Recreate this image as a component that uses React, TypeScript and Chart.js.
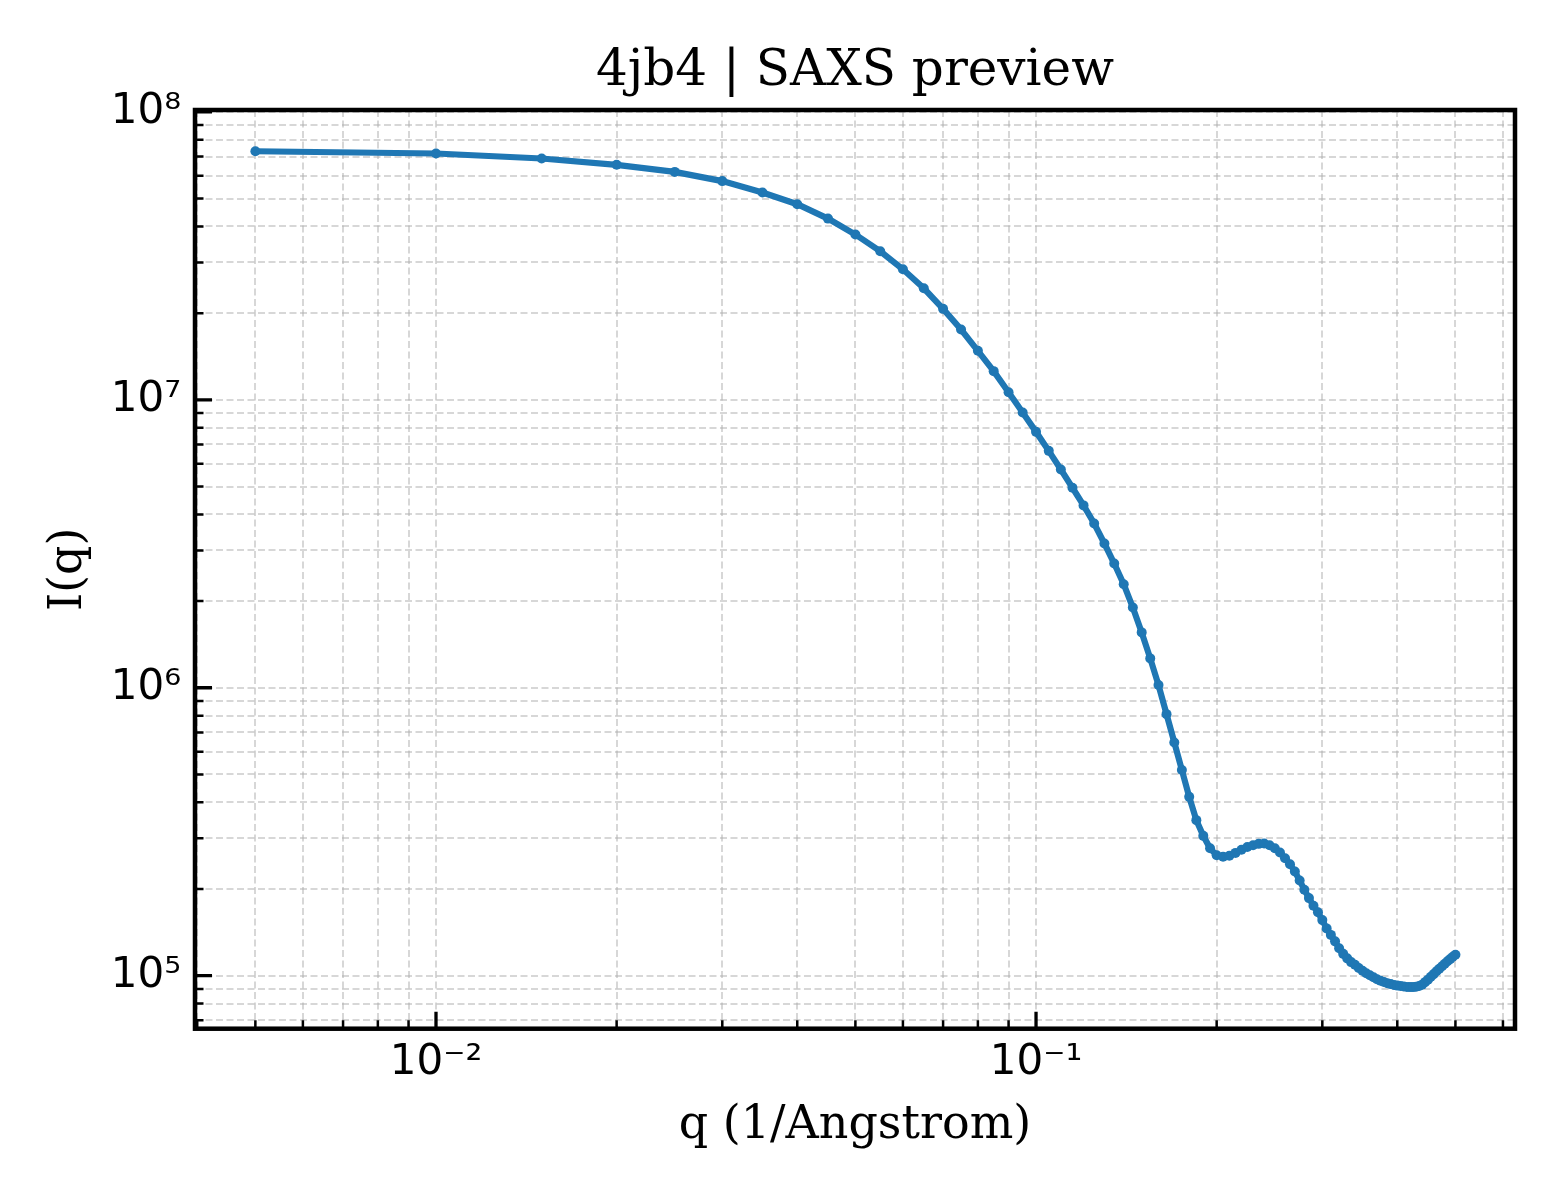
import { useEffect, useRef } from "react";
import type { FC, ReactElement } from "react";
import { Chart, registerables } from "chart.js";
import type { Plugin, Scale } from "chart.js";

Chart.register(...registerables);

// q grid of the curve (1/Angstrom)
const qValues = [
  0.005, 0.01, 0.015, 0.02, 0.025, 0.03, 0.035, 0.04, 0.045, 0.05,
  0.055, 0.06, 0.065, 0.07, 0.075, 0.08, 0.085, 0.09, 0.095, 0.1,
  0.105, 0.11, 0.115, 0.12, 0.125, 0.13, 0.135, 0.14, 0.145, 0.15,
  0.155, 0.16, 0.165, 0.17, 0.175, 0.18, 0.185, 0.19, 0.195, 0.2,
  0.205, 0.21, 0.215, 0.22, 0.225, 0.23, 0.235, 0.24, 0.245, 0.25,
  0.255, 0.26, 0.265, 0.27, 0.275, 0.28, 0.285, 0.29, 0.295, 0.3,
  0.305, 0.31, 0.315, 0.32, 0.325, 0.33, 0.335, 0.34, 0.345, 0.35,
  0.355, 0.36, 0.365, 0.37, 0.375, 0.38, 0.385, 0.39, 0.395, 0.4,
  0.405, 0.41, 0.415, 0.42, 0.425, 0.43, 0.435, 0.44, 0.445, 0.45,
  0.455, 0.46, 0.465, 0.47, 0.475, 0.48, 0.485, 0.49, 0.495, 0.5,
];

// I(q)
const intensity = [
  7.3e7, 7.17e7, 6.89e7, 6.55e7, 6.19e7, 5.75e7, 5.25e7, 4.78e7, 4.26e7, 3.75e7,
  3.28e7, 2.84e7, 2.44e7, 2.07e7, 1.755e7, 1.48e7, 1.258e7, 1.063e7, 9.04e6, 7.74e6,
  6.65e6, 5.73e6, 4.95e6, 4.3e6, 3.72e6, 3.17e6, 2.7e6, 2.29e6, 1.9e6, 1.557e6,
  1.265e6, 1.022e6, 8.1e5, 6.46e5, 5.18e5, 4.18e5, 3.47e5, 3.06e5, 2.77e5, 2.62e5,
  2.59e5, 2.61e5, 2.67e5, 2.74e5, 2.8e5, 2.84e5, 2.87e5, 2.88e5, 2.84e5, 2.77e5,
  2.68e5, 2.56e5, 2.44e5, 2.3e5, 2.14e5, 1.99e5, 1.86e5, 1.75e5, 1.66e5, 1.56e5,
  1.46e5, 1.386e5, 1.316e5, 1.245e5, 1.191e5, 1.149e5, 1.115e5, 1.091e5, 1.063e5, 1.04e5,
  1.02e5, 1.004e5, 9.88e4, 9.72e4, 9.61e4, 9.51e4, 9.42e4, 9.35e4, 9.29e4, 9.24e4,
  9.21e4, 9.17e4, 9.14e4, 9.13e4, 9.13e4, 9.15e4, 9.21e4, 9.31e4, 9.5e4, 9.69e4,
  9.92e4, 1.013e5, 1.036e5, 1.057e5, 1.078e5, 1.1e5, 1.122e5, 1.142e5, 1.163e5, 1.182e5,
];

const xMajorTicks = [0.01, 0.1];
const xMajorLabels = ["10⁻²", "10⁻¹"];
const xMinorTicks = [
  0.004, 0.005, 0.006, 0.007, 0.008, 0.009,
  0.02, 0.03, 0.04, 0.05, 0.06, 0.07, 0.08, 0.09,
  0.2, 0.3, 0.4, 0.5, 0.6,
];

const yMajorTicks = [1e5, 1e6, 1e7, 1e8];
const yMajorLabels = ["10⁵", "10⁶", "10⁷", "10⁸"];
const yMinorTicks = [
  7e4, 8e4, 9e4,
  2e5, 3e5, 4e5, 5e5, 6e5, 7e5, 8e5, 9e5,
  2e6, 3e6, 4e6, 5e6, 6e6, 7e6, 8e6, 9e6,
  2e7, 3e7, 4e7, 5e7, 6e7, 7e7, 8e7, 9e7,
];

const TITLE = "4jb4 | SAXS preview";
const LINE_COLOR = "#1f77b4";
const SERIF = "'DejaVu Serif', serif";
const SANS = "'DejaVu Sans', sans-serif";

const allTicks = (major: number[], minor: number[]) =>
  [...major, ...minor].sort((a, b) => a - b).map((value) => ({ value }));

// title, frame and inward ticks (matplotlib style)
const decorations: Plugin<"line"> = {
  id: "decorations",
  afterDatasetsDraw(chart) {
    const { ctx, chartArea } = chart;
    const { left, right, top, bottom } = chartArea;
    const xs = chart.scales.x;
    const ys = chart.scales.y;
    ctx.save();
    ctx.strokeStyle = "#000";

    const tick = (
      scale: Scale,
      values: number[],
      len: number,
      width: number,
      horizontal: boolean
    ) => {
      ctx.lineWidth = width;
      ctx.beginPath();
      values.forEach((v) => {
        const p = scale.getPixelForValue(v);
        if (horizontal) {
          if (p < left || p > right) return;
          ctx.moveTo(p, bottom);
          ctx.lineTo(p, bottom - len);
        } else {
          if (p < top || p > bottom) return;
          ctx.moveTo(left, p);
          ctx.lineTo(left + len, p);
        }
      });
      ctx.stroke();
    };

    tick(xs, xMinorTicks, 8.5, 2.5, true);
    tick(xs, xMajorTicks, 17, 3.3, true);
    tick(ys, yMinorTicks, 8.5, 2.5, false);
    tick(ys, yMajorTicks, 17, 3.3, false);

    ctx.lineWidth = 4.5;
    ctx.strokeRect(left, top, right - left, bottom - top);

    ctx.fillStyle = "#000";
    ctx.font = `50px ${SERIF}`;
    ctx.textAlign = "center";
    ctx.textBaseline = "alphabetic";
    ctx.fillText(TITLE, (left + right) / 2, 85);
    ctx.restore();
  },
};

const SaxsPreview: FC = (): ReactElement => {
  const chartRef = useRef<HTMLCanvasElement | null>(null);
  const chartInstance = useRef<Chart | null>(null);

  useEffect(() => {
    document.body.style.margin = "0";
    if (!chartRef.current) return;

    if (chartInstance.current) {
      chartInstance.current.destroy();
    }

    chartInstance.current = new Chart(chartRef.current, {
      type: "line",
      data: {
        datasets: [
          {
            data: qValues.map((q, i) => ({ x: q, y: intensity[i] })),
            borderColor: LINE_COLOR,
            backgroundColor: LINE_COLOR,
            borderWidth: 6.2,
            pointRadius: 5,
            pointBorderWidth: 0,
            pointBackgroundColor: LINE_COLOR,
            tension: 0,
          },
        ],
      },
      options: {
        responsive: true,
        maintainAspectRatio: false,
        animation: false,
        layout: { padding: { top: 110, right: 45, left: 0, bottom: 0 } },
        plugins: {
          legend: { display: false },
          tooltip: { enabled: false },
        },
        scales: {
          x: {
            type: "logarithmic",
            min: 0.003966,
            max: 0.6284,
            afterBuildTicks: (scale) => {
              scale.ticks = allTicks(xMajorTicks, xMinorTicks);
            },
            afterFit: (scale) => {
              scale.height = 171.3;
            },
            grid: {
              color: "rgba(176,176,176,0.5)",
              lineWidth: 2,
              drawTicks: false,
            },
            border: { display: false, dash: [7, 3.5] },
            ticks: {
              autoSkip: false,
              maxRotation: 0,
              minRotation: 0,
              padding: 9,
              color: "#000",
              font: { family: SANS, size: 42 },
              callback: (value) => {
                const i = xMajorTicks.indexOf(Number(value));
                return i >= 0 ? xMajorLabels[i] : "";
              },
            },
            title: {
              display: true,
              text: "q (1/Angstrom)",
              color: "#000",
              font: { family: SERIF, size: 46 },
              padding: { top: 0, bottom: 46 },
            },
          },
          y: {
            type: "logarithmic",
            min: 65460,
            max: 1.0153e8,
            afterBuildTicks: (scale) => {
              scale.ticks = allTicks(yMajorTicks, yMinorTicks);
            },
            afterFit: (scale) => {
              scale.width = 195;
            },
            grid: {
              color: "rgba(176,176,176,0.5)",
              lineWidth: 2,
              drawTicks: false,
            },
            border: { display: false, dash: [7, 3.5] },
            ticks: {
              autoSkip: false,
              padding: 14,
              color: "#000",
              font: { family: SANS, size: 42 },
              callback: (value) => {
                const i = yMajorTicks.indexOf(Number(value));
                return i >= 0 ? yMajorLabels[i] : "";
              },
            },
            title: {
              display: true,
              text: "I(q)",
              color: "#000",
              font: { family: SERIF, size: 46 },
              padding: { top: 41, bottom: 0 },
            },
          },
        },
      },
      plugins: [decorations],
    }) as Chart;

    return () => {
      if (chartInstance.current) {
        chartInstance.current.destroy();
        chartInstance.current = null;
      }
    };
  }, []);

  return (
    <div style={{ width: 1560, height: 1200, position: "relative", background: "#fff" }}>
      <canvas ref={chartRef} />
    </div>
  );
};

export default function App(): ReactElement {
  return <SaxsPreview />;
}
